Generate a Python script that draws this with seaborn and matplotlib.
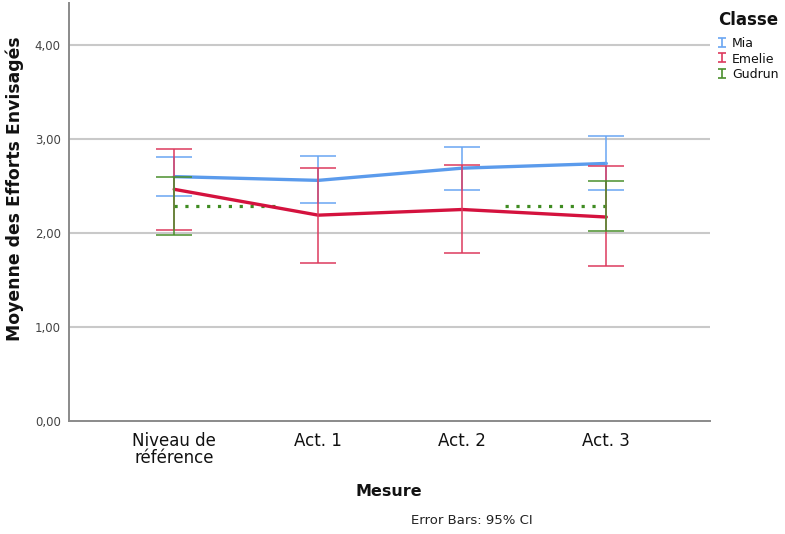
import numpy as np
import pandas as pd
import matplotlib
matplotlib.use("Agg")
import matplotlib.pyplot as plt
from matplotlib.legend_handler import HandlerErrorbar
import seaborn as sns

# Mean "Efforts Envisagés" per measurement occasion, with 95% CI bounds
categories = ["Niveau de\nréférence", "Act. 1", "Act. 2", "Act. 3"]
classes = ["Mia", "Emelie", "Gudrun"]

mia_mean = [2.60, 2.56, 2.69, 2.74]
mia_lo = [2.39, 2.315, 2.46, 2.46]
mia_hi = [2.805, 2.82, 2.91, 3.03]

emelie_mean = [2.465, 2.19, 2.25, 2.17]
emelie_lo = [2.03, 1.684, 1.79, 1.65]
emelie_hi = [2.89, 2.695, 2.72, 2.71]

gudrun_mean = [2.29, np.nan, np.nan, 2.29]
gudrun_lo = [1.98, np.nan, np.nan, 2.02]
gudrun_hi = [2.60, np.nan, np.nan, 2.555]

y_ticks = [0, 1, 2, 3, 4]

colors = {"Mia": "#5b9bec", "Emelie": "#d4123e", "Gudrun": "#3f8c22"}
bar_colors = {"Mia": "#6aa6f2", "Emelie": "#dd3a5e", "Gudrun": "#4a8f2c"}

rows = []
for name, m, lo, hi in [("Mia", mia_mean, mia_lo, mia_hi),
                        ("Emelie", emelie_mean, emelie_lo, emelie_hi),
                        ("Gudrun", gudrun_mean, gudrun_lo, gudrun_hi)]:
    for i, cat in enumerate(categories):
        rows.append({"Classe": name, "Mesure": cat, "pos": i,
                     "mean": m[i], "lo": lo[i], "hi": hi[i]})
df = pd.DataFrame(rows)

sns.set_theme(style="white")
plt.rcParams["font.family"] = ["DejaVu Sans"]
plt.rcParams["text.color"] = "#111111"

fig = plt.figure(figsize=(7.85, 5.34), dpi=100)
ax = fig.add_axes([69 / 785, 1 - 421 / 534, 641 / 785, 418 / 534])

# Horizontal reference grid
for yv in y_ticks[1:]:
    ax.axhline(yv, color="#c9c9c9", lw=1.5, zorder=0)

# Connected means for the two complete series
lines = df[df["Classe"].isin(["Mia", "Emelie"])]
sns.lineplot(data=lines, x="pos", y="mean", hue="Classe",
             hue_order=["Mia", "Emelie"], palette=colors,
             linewidth=2.4, ax=ax, legend=False, zorder=3,
             estimator=None, sort=False)

# Gudrun: dotted stubs reaching towards the missing neighbours
g = df[df["Classe"] == "Gudrun"].dropna()
span = 0.73
for _, r in g.iterrows():
    direction = 1 if r["pos"] == 0 else -1
    ax.plot([r["pos"], r["pos"] + direction * span], [r["mean"], r["mean"]],
            color=colors["Gudrun"], lw=2.3, linestyle=(0, (1, 2.4)),
            zorder=2)

# 95% CI error bars
for name in classes:
    sub = df[df["Classe"] == name].dropna()
    center = (sub["lo"] + sub["hi"]) / 2
    err = [center - sub["lo"], sub["hi"] - center]
    ax.errorbar(sub["pos"], center, yerr=err, fmt="none",
                ecolor=bar_colors[name], elinewidth=1.1,
                capsize=13.3, capthick=1.1, zorder=4)

# Small "I" shaped legend keys
handles = []
for name in classes:
    h = ax.errorbar([np.nan], [np.nan], yerr=[[np.nan], [np.nan]], fmt="none",
                    ecolor=bar_colors[name], elinewidth=1.2,
                    capsize=2.6, capthick=1.2)
    handles.append(h)

ax.set_xlim(-0.73, 3.72)
ax.set_ylim(0, 4.447)
ax.set_xticks(range(len(categories)))
ax.set_xticklabels(categories, fontsize=12, color="#111111", linespacing=0.95)
ax.set_yticks(y_ticks)
ax.set_yticklabels([f"{v:.2f}".replace(".", ",") for v in y_ticks],
                   fontsize=8.5, color="#444444")
ax.tick_params(axis="both", length=0, pad=6)
ax.tick_params(axis="x", pad=8)

for s in ["top", "right"]:
    ax.spines[s].set_visible(False)
for s in ["left", "bottom"]:
    ax.spines[s].set_color("#8a8a8a")
    ax.spines[s].set_linewidth(1.4)

ax.set_xlabel("")
ax.set_ylabel("")
fig.text(389 / 785, 1 - 492 / 534, "Mesure", fontsize=11.5,
         fontweight="bold", ha="center", va="center")
fig.text(15 / 785, 1 - 189 / 534, "Moyenne des Efforts Envisagés",
         fontsize=12.4, fontweight="bold", rotation=90,
         ha="center", va="center")
fig.text(472 / 785, 1 - 521 / 534, "Error Bars: 95% CI", fontsize=9.5,
         ha="center", va="center", color="#222222")

leg = ax.legend(handles, classes, title="Classe", loc="upper left",
                bbox_to_anchor=(709 / 785, 1 - 2 / 534),
                bbox_transform=fig.transFigure, frameon=False,
                fontsize=9, handlelength=0.6, handletextpad=0.55,
                handleheight=0.9, labelspacing=0.2, borderpad=0.2,
                alignment="left",
                handler_map={type(handles[0]): HandlerErrorbar(yerr_size=0.36)},
                title_fontproperties={"weight": "bold", "size": 12})
leg._legend_box.sep = 6

fig.savefig("out.png", dpi=100)
